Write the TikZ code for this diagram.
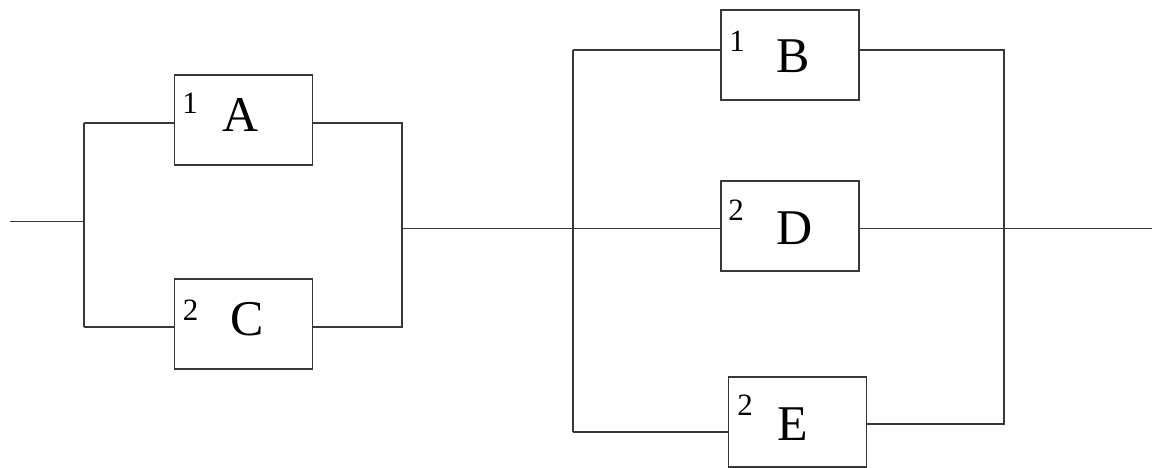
\documentclass[tikz,border=0pt]{standalone}
\usepackage{fontspec}
\setmainfont{Liberation Serif}
\begin{document}
\begin{tikzpicture}[x=1pt,y=-1pt,
  wire/.style={draw=black!78,line width=1.6pt},
  blk/.style={draw=black!78,line width=1.6pt,minimum width=138pt,minimum height=90pt,inner sep=0pt,anchor=north west},
  letter/.style={inner sep=0pt,font=\fontsize{50}{50}\selectfont},
  idx/.style={inner sep=0pt,font=\fontsize{31}{31}\selectfont}]
\useasboundingbox (0,0) rectangle (1158,468);
% boxes
\node[blk] (A) at (173.5,74) {};
\node[blk] (C) at (173.5,278) {};
\node[blk] (B) at (720,9) {};
\node[blk] (D) at (720,180) {};
\node[blk] (E) at (727.5,376) {};
% letters
\node[letter] (lA) at (241,114.5) {A};
\node[letter] (lC) at (247,319) {C};
\node[letter] (lB) at (793,56.5) {B};
\node[letter] (lD) at (795,228) {D};
\node[letter] (lE) at (793,424.5) {E};
\node[idx] (iA) at (190,103) {1};
\node[idx] (iC) at (190.5,310.5) {2};
\node[idx] (iB) at (737,41) {1};
\node[idx] (iD) at (736,210) {2};
\node[idx] (iE) at (745,405) {2};
% coordinates
\coordinate (in) at (10,221.5);
\coordinate (L1) at (84,221.5);
\coordinate (L1t) at (84,123);
\coordinate (L1b) at (84,327);
\coordinate (L2t) at (402,123);
\coordinate (L2b) at (402,327);
\coordinate (L2m) at (402,228.5);
\coordinate (R1t) at (573,50);
\coordinate (R1b) at (573,432);
\coordinate (R1m) at (573,228.5);
\coordinate (R2t) at (1004,50);
\coordinate (R2b) at (1004,424);
\coordinate (out) at (1152,228.5);
% wires
\draw[wire] (in) -- (L1);
\draw[wire] (L1t) -- (L1b);
\draw[wire] (L1t) -- (A.west |- L1t);
\draw[wire] (L1b) -- (C.west |- L1b);
\draw[wire] (A.east |- L2t) -- (L2t) -- (L2b) -- (C.east |- L2b);
\draw[wire] (L2m) -- (D.west |- L2m);
\draw[wire] (R1t) -- (R1b);
\draw[wire] (R1t) -- (B.west |- R1t);
\draw[wire] (R1b) -- (E.west |- R1b);
\draw[wire] (B.east |- R2t) -- (R2t) -- (R2b) -- (E.east |- R2b);
\draw[wire] (D.east |- out) -- (out);
\end{tikzpicture}
\end{document}
